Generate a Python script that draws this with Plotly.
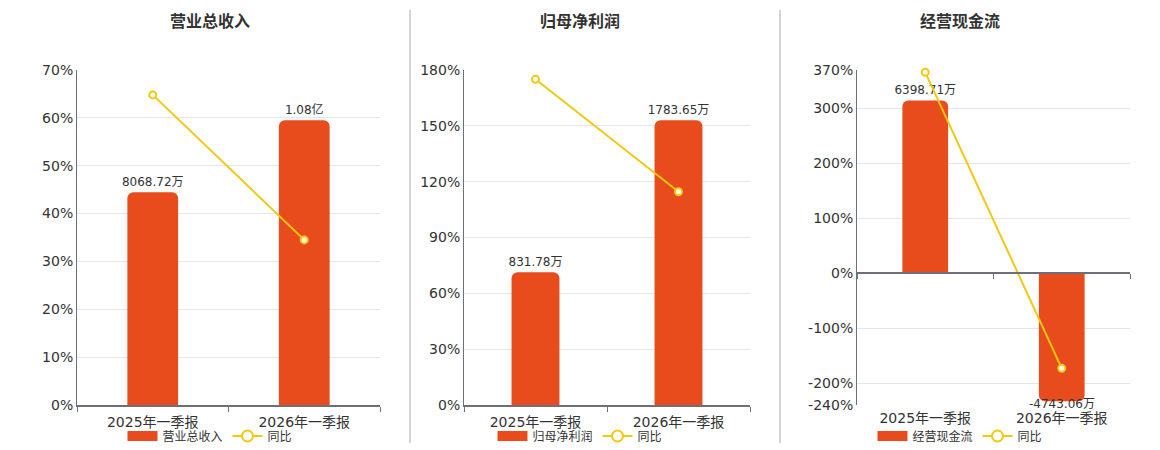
import plotly.graph_objects as go

# ---------------- data ----------------
categories = ["2025年一季报", "2026年一季报"]
titles = ["营业总收入", "归母净利润", "经营现金流"]
series_names = ["营业总收入", "归母净利润", "经营现金流"]

revenue = [8068.72, 10800.0]          # 万
revenue_text = ["8068.72万", "1.08亿"]
revenue_yoy = [64.8, 34.5]            # %

profit = [831.78, 1783.65]            # 万
profit_text = ["831.78万", "1783.65万"]
profit_yoy = [175.0, 114.6]           # %

cash = [6398.71, -4743.06]            # 万
cash_text = ["6398.71万", "-4743.06万"]
cash_yoy = [365.8, -173.2]            # %

ticks1 = [0, 10, 20, 30, 40, 50, 60, 70]
ticks2 = [0, 30, 60, 90, 120, 150, 180]
ticks3 = [-240, -200, -100, 0, 100, 200, 300, 370]

# ---------------- style ----------------
W, H = 1160, 450
BAR = "#E84C1D"
LINE = "#F2C811"
AXIS = "#6E7079"
GRID = "#E0E6F1"
TXT = "#333333"
FONT = "DejaVu Sans, Noto Sans CJK SC, sans-serif"

def px_x(p):
    return p / W

def px_y(p):
    return 1 - p / H

ydom = [px_y(405), px_y(70)]
xdoms = [[px_x(77), px_x(380)], [px_x(464), px_x(750)], [px_x(857), px_x(1130)]]
title_x = [210, 580, 960]
legend_x = [210, 580, 960]

panels = [
    (revenue, revenue_text, revenue_yoy, ticks1),
    (profit, profit_text, profit_yoy, ticks2),
    (cash, cash_text, cash_yoy, ticks3),
]

fig = go.Figure()
layout = dict(
    width=W, height=H,
    margin=dict(l=0, r=0, t=0, b=0, autoexpand=False),
    paper_bgcolor="white", plot_bgcolor="white",
    font=dict(family=FONT, color=TXT, size=12),
    barmode="group",
    annotations=[], shapes=[],
)

for i, (vals, texts, yoy, ticks) in enumerate(panels):
    n = i + 1
    xa = f"x{n}" if n > 1 else "x"
    ya_bar = f"y{n}" if n > 1 else "y"
    ya_pct = f"y{n + 3}"
    leg = f"legend{n}" if n > 1 else "legend"

    pmin, pmax = min(ticks), max(ticks)
    top = max(vals) / 0.85
    bottom = pmin / pmax * top if pmin < 0 else 0

    fig.add_trace(go.Bar(
        x=categories, y=vals, name=series_names[i],
        text=[t if v >= 0 else "" for t, v in zip(texts, vals)],
        xaxis=xa, yaxis=ya_bar, showlegend=False,
        marker=dict(color=BAR, cornerradius=6, line=dict(width=0)),
        width=0.335, textposition="outside", cliponaxis=False,
        constraintext="none",
        textfont=dict(size=12, color=TXT, family=FONT),
        hoverinfo="skip",
    ))
    # labels of negative bars sit just under the bar end
    for c, v, t in zip(categories, vals, texts):
        if v < 0:
            layout["annotations"].append(dict(
                x=c, y=v, xref=xa, yref=ya_bar, text=t, showarrow=False,
                xanchor="center", yanchor="top", yshift=6,
                font=dict(size=12, color=TXT, family=FONT),
            ))
    fig.add_trace(go.Scatter(
        x=categories, y=yoy, name="同比", mode="lines+markers",
        xaxis=xa, yaxis=ya_pct, showlegend=False,
        line=dict(color=LINE, width=2),
        marker=dict(symbol="circle", size=7, color="white",
                    line=dict(color=LINE, width=2)),
        cliponaxis=False, hoverinfo="skip",
    ))
    # legend entries
    fig.add_trace(go.Scatter(
        x=[None], y=[None], name=series_names[i], mode="lines",
        xaxis=xa, yaxis=ya_pct, legend=leg,
        line=dict(color=BAR, width=14), hoverinfo="skip",
    ))
    fig.add_trace(go.Scatter(
        x=[None], y=[None], name="同比", mode="lines+markers",
        xaxis=xa, yaxis=ya_pct, legend=leg,
        line=dict(color=LINE, width=2),
        marker=dict(symbol="circle", size=11, color="white",
                    line=dict(color=LINE, width=2)),
        hoverinfo="skip",
    ))

    key_x = f"xaxis{n}" if n > 1 else "xaxis"
    key_yb = f"yaxis{n}" if n > 1 else "yaxis"
    key_yp = f"yaxis{n + 3}"

    xaxis = dict(
        domain=xdoms[i], anchor=ya_bar, type="category",
        tickfont=dict(size=14, color=TXT, family=FONT),
        showgrid=False, zeroline=False,
        ticks="outside", tickson="boundaries", ticklen=5,
        tickcolor=AXIS, tickwidth=1, ticklabelstandoff=3,
        showline=True, linecolor=AXIS, linewidth=1.5,
        fixedrange=True,
    )
    if pmin < 0:
        xaxis.update(showline=False, tickcolor="rgba(0,0,0,0)")
        # axis line placed at zero of the percentage scale
        zero_pos = ydom[0] + (0 - pmin) / (pmax - pmin) * (ydom[1] - ydom[0])
        layout["xaxis7"] = dict(
            overlaying=xa, anchor="free", position=zero_pos,
            domain=xdoms[i], range=[-0.5, len(categories) - 0.5],
            tickvals=[k - 0.5 for k in range(len(categories) + 1)],
            showticklabels=False, ticks="outside", ticklen=5,
            tickcolor=AXIS, tickwidth=1, showgrid=False, zeroline=False,
            showline=True, linecolor=AXIS, linewidth=1.5, fixedrange=True,
        )
        fig.add_trace(go.Scatter(
            x=[None], y=[None], xaxis="x7", yaxis=ya_bar,
            showlegend=False, hoverinfo="skip",
        ))
    layout[key_x] = xaxis
    layout[key_yb] = dict(
        domain=ydom, anchor=xa, range=[bottom, top], visible=False,
        fixedrange=True,
    )
    layout[key_yp] = dict(
        overlaying=ya_bar, anchor=xa, side="left", range=[pmin, pmax],
        tickvals=ticks, ticktext=[f"{t}%" for t in ticks],
        tickfont=dict(size=14, color=TXT, family=FONT),
        showgrid=True, gridcolor=GRID, gridwidth=1, zeroline=False,
        showline=True, linecolor=AXIS, linewidth=1, ticks="",
        fixedrange=True,
    )
    layout[leg] = dict(
        orientation="h", x=px_x(legend_x[i]), xanchor="center",
        y=px_y(436), yanchor="middle", bgcolor="rgba(0,0,0,0)",
        font=dict(size=12, color=TXT, family=FONT),
        itemwidth=30, itemclick=False, itemdoubleclick=False,
    )
    layout["annotations"].append(dict(
        text=f"<b>{titles[i]}</b>", x=px_x(title_x[i]), y=px_y(22),
        xref="paper", yref="paper", showarrow=False,
        font=dict(size=16, color=TXT, family=FONT),
        xanchor="center", yanchor="middle",
    ))

for xp in (410, 780):
    layout["shapes"].append(dict(
        type="line", xref="paper", yref="paper",
        x0=px_x(xp), x1=px_x(xp), y0=px_y(10), y1=px_y(443),
        line=dict(color="#AAAAAA", width=1),
    ))

fig.update_layout(**layout)
fig.write_html(
    "out.html",
    config={"displayModeBar": False},
    post_script="document.body.style.margin='0';document.body.style.overflow='hidden';",
)
